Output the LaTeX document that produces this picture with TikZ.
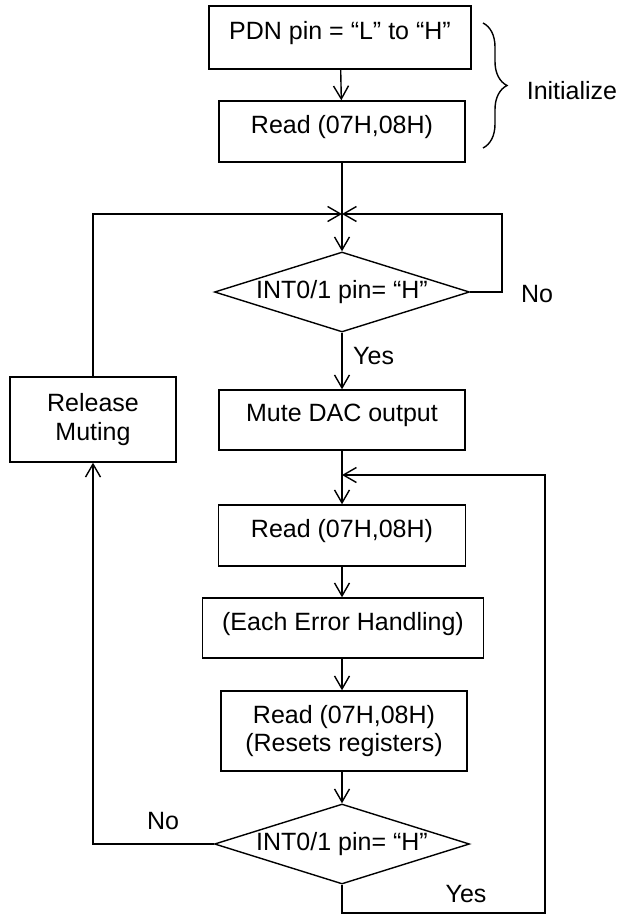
\documentclass[tikz,border=0pt]{standalone}
\usepackage{fontspec}
\setmainfont{Liberation Sans}
\usepackage{tikz}
\usetikzlibrary{shapes.geometric, decorations.pathreplacing, arrows.meta}
\tikzstyle{stepbox} = [draw, rectangle, line width=1.4pt,
    align=center, minimum height=61pt]
\tikzstyle{onebox} = [stepbox, text depth=14pt]
\tikzstyle{testbox} = [draw, diamond, line width=1.4pt, aspect=3.19,
    minimum width=255pt, minimum height=80pt]
\tikzstyle{flow} = [line width=1.4pt, -{Straight Barb[length=13pt,width=15pt]}]
\tikzstyle{every node}=[font=\fontsize{25}{28.5}\selectfont, inner sep=0pt]

\begin{document}
\begin{tikzpicture}[x=1pt, y=-1pt]
	\useasboundingbox (0,0) rectangle (621,915);

	% initialize
	\node [onebox, minimum width=262pt, minimum height=63pt] at (340,37.5) (pdn) {PDN pin = “L” to “H”};
	\node [onebox, minimum width=246pt] at (342,131.5) (read1) {Read (07H,08H)};
	\draw[decorate, decoration={brace, amplitude=24pt}, line width=1.4pt]
		(483,23) -- (483,148) coordinate (br);
	\node at (572,91) (init) {Initialize};

	% wait for interrupt
	\coordinate (jn) at (342,214);
	\coordinate (rt) at (502,214);
	\node [testbox] at (342,292) (dia1) {INT0/1 pin= “H”};
	\node at (537,294) (no1) {No};
	\node [anchor=west] at (353,356) (yes1) {Yes};
	\node [onebox, minimum width=246pt, minimum height=60pt] at (342,420) (mute) {Mute DAC output};
	\node [stepbox, minimum width=166pt, minimum height=85pt] at (93,419.5) (release) {Release\\Muting};

	% error loop
	\coordinate (jl) at (342,475);
	\coordinate (lp) at (545,913);
	\node [onebox, minimum width=247pt] at (342,535.5) (read2) {Read (07H,08H)};
	\node [onebox, minimum width=281pt, minimum height=60pt] at (343,628) (err) {(Each Error Handling)};
	\node [stepbox, minimum width=246pt, minimum height=80pt] at (344,731) (read3) {Read (07H,08H)\\(Resets registers)};
	\node [testbox] at (342,844) (dia2) {INT0/1 pin= “H”};
	\node at (163,821) (no2) {No};
	\node at (466,894) (yes2) {Yes};

	% connectors
	\draw[flow] (pdn) -- (read1);
	\draw[flow] (read1.south -| jn) -- (dia1.north);
	\draw[flow] (release.north) |- (jn);
	\draw[flow] (dia1.east) -| (rt) -- (jn);
	\draw[flow] (dia1.south) -- (mute.north -| dia1.south);
	\draw[flow] (mute.south -| jl) -- (read2.north -| jl);
	\draw[flow] (read2.south -| jl) -- (err.north -| jl);
	\draw[flow] (err.south -| jl) -- (read3.north -| jl);
	\draw[flow] (read3.south -| jl) -- (dia2.north);
	\draw[flow] (dia2.south) |- (lp) |- (jl);
	\draw[flow] (dia2.west) -| (release.south);
\end{tikzpicture}
\end{document}
